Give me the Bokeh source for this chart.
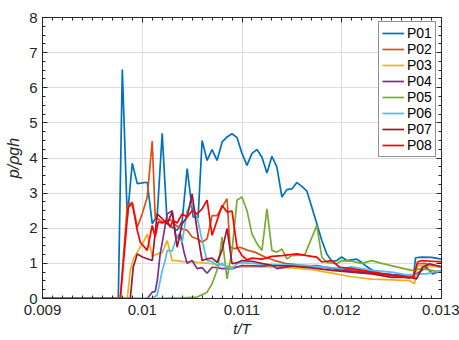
from bokeh.plotting import figure
from bokeh.models import (Range1d, LinearAxis, FixedTicker, Legend, LegendItem,
                          CustomLabelingPolicy)
from bokeh.embed import file_html
from bokeh.resources import INLINE

# ---------------- data ----------------
x_ticks = [0.009, 0.010, 0.011, 0.012, 0.013]
x_tick_labels = ["0.009", "0.01", "0.011", "0.012", "0.013"]
y_ticks = [0, 1, 2, 3, 4, 5, 6, 7, 8]
x_label = "t/T"
y_label = "p/\u03c1gh"

series_names = ["P01", "P02", "P03", "P04", "P05", "P06", "P07", "P08"]
series_colors = ["#0072BD", "#D95319", "#EDB120", "#7E2F8E",
                 "#77AC30", "#4DBEEE", "#A2142F", "#FF0000"]

t01 = [0.0090, 0.00976, 0.00980, 0.00985, 0.00990, 0.00995, 0.01005, 0.01010, 0.01015, 0.01020,
       0.01025, 0.01030, 0.01035, 0.01040, 0.01045, 0.01051, 0.01056, 0.01060, 0.01065, 0.01070,
       0.01075, 0.01080, 0.01085, 0.01090, 0.01095, 0.01100, 0.01105, 0.01110, 0.01115, 0.01120,
       0.01125, 0.01130, 0.01135, 0.01140, 0.01145, 0.01150, 0.01155, 0.01160, 0.01165, 0.01170,
       0.01175, 0.01180, 0.01185, 0.01190, 0.01195, 0.01200, 0.01205, 0.01210, 0.01215, 0.01220,
       0.01225, 0.01230, 0.01240, 0.01250, 0.01260, 0.01268, 0.01272, 0.01274, 0.01280, 0.01290,
       0.01300]
p01 = [0, 0, 6.52, 2.3, 3.85, 3.27, 3.31, 2.13, 2.36, 4.7,
       2.13, 2.03, 1.94, 2.2, 3.7, 2.32, 2.3, 4.5, 3.93, 4.24,
       3.93, 4.45, 4.6, 4.69, 4.58, 4.13, 3.79, 4.13, 4.24, 4.02,
       3.57, 4.05, 3.74, 2.89, 3.1, 3.12, 3.3, 3.19, 3.06, 2.6,
       2.13, 1.65, 1.27, 1.06, 1.08, 1.18, 1.08, 1.1, 1.12, 1.03,
       0.91, 0.82, 0.7, 0.66, 0.62, 0.58, 0.66, 1.16, 1.18, 1.17,
       1.12]

t02 = [0.009, 0.00978, 0.00985, 0.0099, 0.00995, 0.01, 0.01005, 0.0101, 0.01013, 0.01018,
       0.01023, 0.01028, 0.01033, 0.01038, 0.01045, 0.0105, 0.01055, 0.0106, 0.01065, 0.0107,
       0.01075, 0.0108, 0.01085, 0.01088, 0.01093, 0.01098, 0.01106, 0.01113, 0.01123, 0.01133,
       0.01143, 0.01158, 0.01178, 0.01198, 0.01218, 0.01238, 0.01258, 0.01268, 0.01273, 0.01276,
       0.01283, 0.01288, 0.013]
p02 = [0, 0, 2.65, 2.74, 2.03, 2.41, 2.89, 4.48, 2.32, 2.22,
       2.15, 2.25, 2.1, 2.0, 1.94, 1.75, 1.7, 1.6, 1.7, 2.36,
       2.36, 2.6, 2.84, 1.46, 1.42, 1.46, 1.37, 1.32, 1.18, 1.08,
       1.0, 0.95, 0.9, 0.85, 0.8, 0.72, 0.65, 0.59, 0.62, 0.99,
       1.0, 0.95, 0.9]

t03 = [0.009, 0.00985, 0.00988, 0.00991, 0.00996, 0.01001, 0.01005, 0.0101, 0.01015, 0.0102,
       0.01025, 0.0103, 0.01035, 0.0104, 0.0105, 0.01055, 0.0107, 0.0109, 0.0111, 0.0113,
       0.0115, 0.0117, 0.0119, 0.0121, 0.0123, 0.0125, 0.01268, 0.01273, 0.01276, 0.01285,
       0.013]
p03 = [0, 0, 0.8, 1.13, 1.37, 1.6, 1.84, 1.2, 1.27, 1.3,
       1.65, 1.08, 1.08, 1.05, 1.05, 1.03, 0.99, 0.9, 0.9, 0.9,
       0.87, 0.82, 0.72, 0.62, 0.55, 0.53, 0.51, 0.42, 0.94, 0.92,
       0.89]

t04 = [0.009, 0.01005, 0.0101, 0.01013, 0.01015, 0.01018, 0.01021, 0.01025, 0.0103, 0.01034,
       0.01038, 0.01042, 0.01045, 0.0105, 0.01055, 0.0106, 0.01065, 0.0107, 0.01075, 0.0108,
       0.0109, 0.011, 0.0112, 0.0113, 0.01135, 0.0115, 0.01175, 0.0119, 0.0121, 0.0123,
       0.0125, 0.01268, 0.01275, 0.01285, 0.01291, 0.013]
p04 = [0, 0, 0.18, 0.2, 0.5, 1.27, 1.75, 2.41, 2.5, 1.7,
       1.85, 1.3, 1.0, 1.08, 0.85, 0.88, 0.72, 0.89, 0.88, 0.85,
       0.85, 0.94, 0.92, 0.95, 0.85, 0.92, 0.94, 0.85, 0.78, 0.72,
       0.68, 0.66, 0.7, 0.89, 0.7, 0.8]

t05 = [0.009, 0.0101, 0.0104, 0.01055, 0.01065, 0.0107, 0.01076, 0.0108, 0.01085, 0.0109,
       0.01095, 0.011, 0.01105, 0.0111, 0.01115, 0.0112, 0.01125, 0.0113, 0.01135, 0.0114,
       0.01145, 0.0115, 0.01163, 0.01175, 0.0118, 0.01185, 0.01195, 0.012, 0.0121, 0.0122,
       0.0123, 0.0124, 0.0127, 0.0128, 0.013]
p05 = [0, 0, 0.02, 0.04, 0.18, 0.42, 0.89, 1.75, 0.56, 1.37,
       2.8, 2.89, 2.5, 1.84, 1.56, 1.37, 2.55, 1.37, 1.32, 1.41,
       1.13, 1.22, 1.25, 2.08, 1.18, 1.03, 0.99, 1.08, 1.06, 1.0,
       1.08, 1.0, 0.8, 0.85, 0.75]

t06 = [0.009, 0.0101, 0.01015, 0.01018, 0.0102, 0.01023, 0.01025, 0.0103, 0.01035, 0.0104,
       0.01045, 0.0105, 0.01055, 0.0106, 0.01065, 0.0107, 0.01075, 0.0108, 0.01085, 0.0109,
       0.01095, 0.011, 0.0112, 0.0114, 0.0116, 0.0118, 0.012, 0.0121, 0.0123, 0.0125,
       0.01268, 0.0128, 0.01285, 0.013]
p06 = [0, 0, 0.1, 0.51, 0.8, 1.08, 1.37, 1.35, 1.8, 1.6,
       2.5, 2.7, 2.32, 1.65, 1.08, 1.05, 0.94, 1.0, 0.89, 0.85,
       0.99, 1.02, 0.98, 0.95, 0.95, 0.9, 0.85, 0.9, 0.8, 0.75,
       0.66, 0.7, 0.7, 0.8]

t07 = [0.009, 0.00988, 0.00991, 0.00995, 0.01, 0.01005, 0.0101, 0.01015, 0.0102, 0.01025,
       0.0103, 0.01035, 0.0104, 0.01045, 0.0105, 0.01055, 0.0106, 0.01065, 0.0107, 0.01075,
       0.0108, 0.01085, 0.0109, 0.01095, 0.011, 0.0111, 0.0113, 0.0115, 0.0117, 0.0119,
       0.0121, 0.0123, 0.0125, 0.01268, 0.01275, 0.01281, 0.01288, 0.013]
p07 = [0, 0, 0.9, 1.27, 1.18, 1.13, 1.08, 2.41, 2.27, 2.13,
       2.46, 1.46, 2.13, 2.32, 2.98, 1.94, 1.08, 1.13, 1.15, 1.03,
       1.37, 1.99, 0.99, 1.02, 1.08, 1.06, 0.94, 0.92, 0.87, 0.8,
       0.75, 0.7, 0.6, 0.61, 0.56, 0.89, 0.99, 0.9]

t08 = [0.009, 0.00978, 0.00986, 0.0099, 0.00995, 0.00998, 0.01005, 0.0101, 0.01013, 0.01016,
       0.0102, 0.01025, 0.01028, 0.01031, 0.01035, 0.0104, 0.01045, 0.0105, 0.01055, 0.0106,
       0.01065, 0.0107, 0.01075, 0.0108, 0.01085, 0.0109, 0.01095, 0.011, 0.01105, 0.0111,
       0.0112, 0.0113, 0.0114, 0.01155, 0.01165, 0.01175, 0.0118, 0.0119, 0.01198, 0.0121,
       0.0122, 0.0124, 0.0125, 0.01268, 0.01272, 0.01276, 0.0128, 0.0129, 0.013]
p08 = [0, 0, 2.6, 2.7, 1.94, 1.6, 1.37, 2.08, 1.75, 2.18,
       2.15, 2.22, 2.03, 2.22, 2.15, 2.41, 2.32, 2.5, 2.41, 2.55,
       2.8, 1.8, 2.22, 2.65, 2.46, 2.49, 1.46, 1.22, 1.1, 1.15,
       1.12, 1.2, 1.22, 1.27, 1.22, 1.18, 1.04, 1.08, 0.89, 0.85,
       0.8, 0.7, 0.66, 0.59, 0.62, 1.04, 1.08, 1.06, 1.04]

series_t = [t01, t02, t03, t04, t05, t06, t07, t08]
series_v = [p01, p02, p03, p04, p05, p06, p07, p08]

# ---------------- figure ----------------
FONT = "Liberation Sans"
AX = "#262626"

p = figure(width=459, height=340,
           x_range=Range1d(0.009, 0.013), y_range=Range1d(0, 8),
           output_backend="svg", toolbar_location=None,
           min_border_left=42, min_border_right=18,
           min_border_top=17, min_border_bottom=42)
p.background_fill_color = "white"
p.border_fill_color = "white"
p.outline_line_color = AX
p.outline_line_width = 1

x_minor = [round(0.009 + i * 0.0001, 5) for i in range(41)]
y_minor = [i * 0.25 for i in range(33)]
xticker = FixedTicker(ticks=x_ticks, minor_ticks=x_minor)
yticker = FixedTicker(ticks=y_ticks, minor_ticks=y_minor)
x_over = {t: s for t, s in zip(x_ticks, x_tick_labels)}


def style_axis(ax, labels=True):
    ax.axis_line_color = AX
    ax.major_tick_line_color = AX
    ax.minor_tick_line_color = AX
    ax.major_tick_in = 5
    ax.major_tick_out = 0
    ax.minor_tick_in = 3
    ax.minor_tick_out = 0
    ax.major_label_text_font = FONT
    ax.major_label_text_color = AX
    ax.major_label_text_font_size = "15px"
    if not labels:
        ax.major_label_standoff = 0
        ax.major_label_text_font_size = "0px"
        ax.major_label_policy = CustomLabelingPolicy(code="return []")


xa = p.xaxis[0]
xa.ticker = xticker
xa.major_label_overrides = x_over
style_axis(xa)
xa.major_label_standoff = 6
xa.axis_label = x_label
xa.axis_label_text_font = FONT
xa.axis_label_text_font_style = "italic"
xa.axis_label_text_font_size = "15px"
xa.axis_label_text_color = AX
xa.axis_label_standoff = 2

ya = p.yaxis[0]
ya.ticker = yticker
style_axis(ya)
ya.major_label_standoff = 5
ya.axis_label = y_label
ya.axis_label_text_font = FONT
ya.axis_label_text_font_style = "italic"
ya.axis_label_text_font_size = "16px"
ya.axis_label_text_color = AX
ya.axis_label_standoff = 4

top = LinearAxis(ticker=xticker)
style_axis(top, labels=False)
p.add_layout(top, "above")
right = LinearAxis(ticker=yticker)
style_axis(right, labels=False)
p.add_layout(right, "right")

p.xgrid.ticker = xticker
p.ygrid.ticker = yticker
p.xgrid.grid_line_color = "#dcdcdc"
p.ygrid.grid_line_color = "#dcdcdc"
p.xgrid.grid_line_width = 1
p.ygrid.grid_line_width = 1

items = []
for name, col, tt, vv in zip(series_names, series_colors, series_t, series_v):
    r = p.line(tt, vv, line_color=col, line_width=1.7)
    items.append(LegendItem(label=name, renderers=[r]))

legend = Legend(items=items, location=(336, 141))
legend.label_text_font = FONT
legend.label_text_font_size = "14px"
legend.label_text_color = "#000000"
legend.glyph_width = 22
legend.glyph_height = 16
legend.label_height = 16
legend.label_standoff = 3
legend.padding = 3
legend.spacing = 0
legend.margin = 0
legend.border_line_color = AX
legend.border_line_width = 1
legend.background_fill_color = "white"
legend.background_fill_alpha = 1
p.add_layout(legend)

open("out.html", "w").write(file_html(p, INLINE))
